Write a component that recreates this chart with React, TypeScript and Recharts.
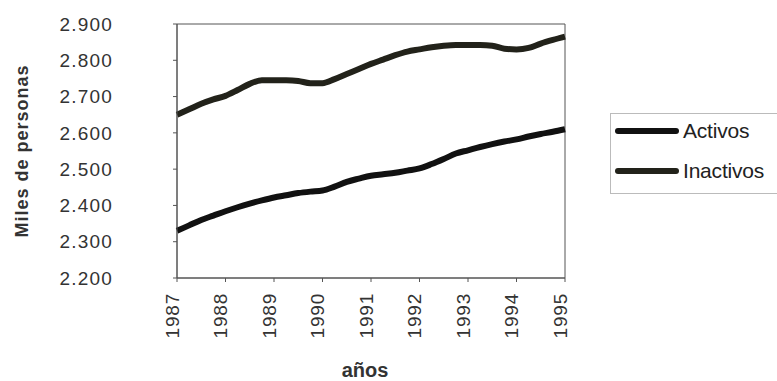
import React from 'react';
import { LineChart, Line, XAxis, YAxis, ReferenceArea } from 'recharts';

// años (trimestres desde 1987)
const years = ['1987', '1988', '1989', '1990', '1991', '1992', '1993', '1994', '1995'];
const quarters = Array.from({ length: 33 }, (_, i) => i);

// Miles de personas
const activos = [
  2330, 2345, 2360, 2372, 2384, 2395, 2405, 2414, 2422, 2428, 2434, 2438, 2441,
  2452, 2465, 2474, 2482, 2486, 2490, 2496, 2502, 2514, 2528, 2543, 2552, 2561,
  2569, 2576, 2582, 2590, 2597, 2603, 2610,
];
const inactivos = [
  2650, 2665, 2680, 2692, 2702, 2718, 2735, 2745, 2745, 2745, 2743, 2737, 2737,
  2748, 2762, 2776, 2790, 2802, 2814, 2824, 2830, 2836, 2840, 2842, 2842, 2842,
  2840, 2832, 2830, 2834, 2846, 2856, 2865,
];
const yTicks = [2200, 2300, 2400, 2500, 2600, 2700, 2800, 2900];

const data = quarters.map((q, i) => ({ q, activos: activos[i], inactivos: inactivos[i] }));

const FONT = '"Liberation Sans", Arial, sans-serif';

const series = [
  { key: 'activos', name: 'Activos', color: '#111' },
  { key: 'inactivos', name: 'Inactivos', color: '#22221a' },
];

const YearTick = (props: any) => {
  const { x, y, payload } = props;
  const label = years[payload.value / 4];
  return (
    <text
      x={x - 5}
      y={y + 9}
      transform={`rotate(-90, ${x - 5}, ${y + 9})`}
      textAnchor="end"
      dominantBaseline="central"
      fill="#333"
      fontSize={19}
      letterSpacing={0.8}
      fontFamily={FONT}
    >
      {label}
    </text>
  );
};

export default function App() {
  return (
    <div style={{ position: 'absolute', left: 0, top: 0, width: 777, height: 381, background: '#fff', overflow: 'hidden' }}>
      <LineChart width={777} height={381} data={data} margin={{ top: 24, right: 212, left: 0, bottom: 0 }}>
        <XAxis
          dataKey="q"
          type="number"
          domain={[0, 32]}
          ticks={[0, 4, 8, 12, 16, 20, 24, 28, 32]}
          tick={<YearTick />}
          tickSize={4}
          stroke="#555"
          height={103}
          interval={0}
          label={{ value: 'años', position: 'insideBottom', offset: 4, dx: -6, fill: '#333', fontSize: 20, fontWeight: 'bold', fontFamily: FONT }}
        />
        <YAxis
          type="number"
          domain={[2200, 2900]}
          ticks={yTicks}
          width={177}
          tickSize={4}
          tickMargin={60}
          stroke="#555"
          tick={{ fill: '#333', fontSize: 19, fontFamily: FONT, letterSpacing: 1.2 }}
          tickFormatter={(v: number) => (v / 1000).toFixed(3)}
          interval={0}
          label={{
            value: 'Miles de personas',
            angle: -90,
            position: 'insideLeft',
            offset: 22,
            textAnchor: 'middle',
            fill: '#333',
            fontSize: 18,
            fontWeight: 'bold',
            letterSpacing: 1,
            fontFamily: FONT,
          }}
        />
        <ReferenceArea x1={0} x2={32} y1={2200} y2={2900} fill="none" stroke="#555" strokeWidth={1} />
        {series.map((s) => (
          <Line
            key={s.key}
            type="monotone"
            dataKey={s.key}
            stroke={s.color}
            strokeWidth={6}
            dot={false}
            isAnimationActive={false}
          />
        ))}
      </LineChart>
      <div
        style={{
          position: 'absolute',
          left: 610,
          top: 113,
          width: 190,
          height: 81,
          border: '1px solid #bbb',
          boxSizing: 'border-box',
          fontFamily: FONT,
          fontSize: 21,
          color: '#222',
        }}
      >
        {series.map((s, i) => (
          <div
            key={s.key}
            style={{ display: 'flex', alignItems: 'center', position: 'absolute', left: 4, top: 3 + i * 40, height: 28, whiteSpace: 'nowrap' }}
          >
            <div style={{ width: 64, height: 6, background: s.color, borderRadius: 3 }} />
            <span style={{ marginLeft: 4, letterSpacing: -0.2 }}>{s.name}</span>
          </div>
        ))}
      </div>
    </div>
  );
}
